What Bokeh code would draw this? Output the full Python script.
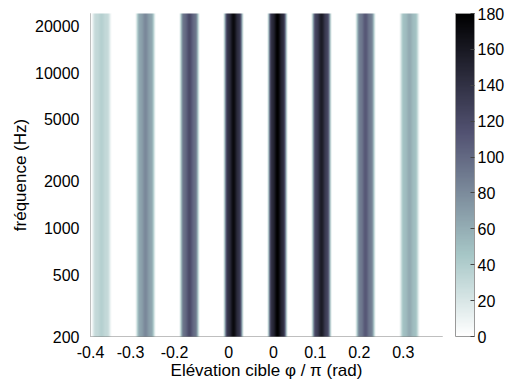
import numpy as np
from bokeh.plotting import figure
from bokeh.models import (LinearColorMapper, ColorBar, FixedTicker, Range1d,
                          PrintfTickFormatter)
from bokeh.embed import file_html
from bokeh.resources import INLINE

# ---------------- data ----------------
stripe_centers = [-0.375, -0.275, -0.175, -0.075, 0.025, 0.125, 0.225, 0.325]
stripe_peaks = [38, 82, 120, 172, 180, 158, 110, 62]
# relative level across one stripe, one value per pixel column
stripe_profile = [0.12, 0.35, 0.6, 0.75, 0.8, 0.82, 0.85, 0.9, 0.96, 1.0,
                  1.0, 0.96, 0.9, 0.85, 0.82, 0.8, 0.75, 0.6, 0.35, 0.12]
x_tick_values = [-0.4, -0.309, -0.209, -0.086, 0.016, 0.111, 0.211, 0.311]
x_tick_labels = ["-0.4", "-0.3", "-0.2", "0", "0", "0.1", "0.2", "0.3"]
y_tick_values = [200, 500, 1000, 2000, 5000, 10000, 20000]
cbar_ticks = [0, 20, 40, 60, 80, 100, 120, 140, 160, 180]
x_start, x_end = -0.4, 0.4
f_min, f_max = 200, 24000
v_min, v_max = 0, 180

# ---------------- MATLAB "bone" colormap, reversed ----------------
def bone(m=256):
    n = int(3 * m / 8)
    g = np.linspace(0, 1, m)
    hr = np.concatenate([np.arange(1, n + 1) / n, np.ones(m - n)])
    hg = np.concatenate([np.zeros(n), np.arange(1, n + 1) / n, np.ones(m - 2 * n)])
    hb = np.concatenate([np.zeros(2 * n), np.arange(1, m - 2 * n + 1) / (m - 2 * n)])
    r = (7 * g + hb) / 8
    gg = (7 * g + hg) / 8
    b = (7 * g + hr) / 8
    return ["#%02x%02x%02x" % (int(round(a * 255)), int(round(c * 255)), int(round(d * 255)))
            for a, c, d in zip(r, gg, b)]

palette = bone(256)[::-1]  # low -> white, high -> black
mapper = LinearColorMapper(palette=palette, low=v_min, high=v_max)

# ---------------- image built from the stripe arrays ----------------
ncols = 352
dx = (x_end - x_start) / ncols
img = np.zeros((1, ncols))
half = len(stripe_profile) // 2
for c, pk in zip(stripe_centers, stripe_peaks):
    start = int(round((c - x_start) / dx)) - half
    for j, r in enumerate(stripe_profile):
        if 0 <= start + j < ncols:
            img[0, start + j] = pk * r

FONT = "Liberation Sans"

p = figure(width=512, height=382, output_backend="svg", toolbar_location=None,
           x_range=Range1d(x_start, x_end), y_range=Range1d(f_min, f_max),
           y_axis_type="log", min_border_left=90, min_border_right=70,
           min_border_top=13, min_border_bottom=46)
p.outline_line_color = None
p.grid.visible = False
p.background_fill_color = "white"
p.border_fill_color = "white"

r = p.image(image=[img], x=x_start, y=f_min, dw=x_end - x_start, dh=f_max - f_min,
            color_mapper=mapper)
r.level = "overlay"

# axes
for ax in (p.xaxis[0], p.yaxis[0]):
    ax.axis_line_color = "#808080"
    ax.major_tick_line_color = None
    ax.minor_tick_line_color = None
    ax.major_label_text_font = FONT
    ax.major_label_text_font_size = "16px"
    ax.major_label_text_color = "black"
    ax.axis_label_text_font = FONT
    ax.axis_label_text_font_size = "17px"
    ax.axis_label_text_font_style = "normal"
    ax.axis_label_text_color = "black"

p.xaxis.ticker = FixedTicker(ticks=x_tick_values)
p.xaxis.major_label_overrides = {v: l for v, l in zip(x_tick_values, x_tick_labels)}
p.xaxis.major_label_standoff = 3
p.xaxis.axis_label = "Elévation cible φ / π (rad)"
p.xaxis.axis_label_standoff = 0

p.yaxis.ticker = FixedTicker(ticks=y_tick_values)
p.yaxis.formatter = PrintfTickFormatter(format="%d")
p.yaxis.major_label_standoff = 5
p.yaxis.axis_label = "fréquence (Hz)"
p.yaxis.axis_label_standoff = 2

cb = ColorBar(color_mapper=mapper, ticker=FixedTicker(ticks=cbar_ticks),
              width=19, padding=0, margin=0, location=(13, 0), label_standoff=3,
              major_label_text_font=FONT, major_label_text_font_size="16px",
              major_label_text_color="black",
              major_tick_line_color="#444444", major_tick_in=4, major_tick_out=0,
              minor_tick_line_color=None,
              bar_line_color="#999999", background_fill_color=None)
p.add_layout(cb, "right")

open("out.html", "w").write(file_html(p, INLINE))
